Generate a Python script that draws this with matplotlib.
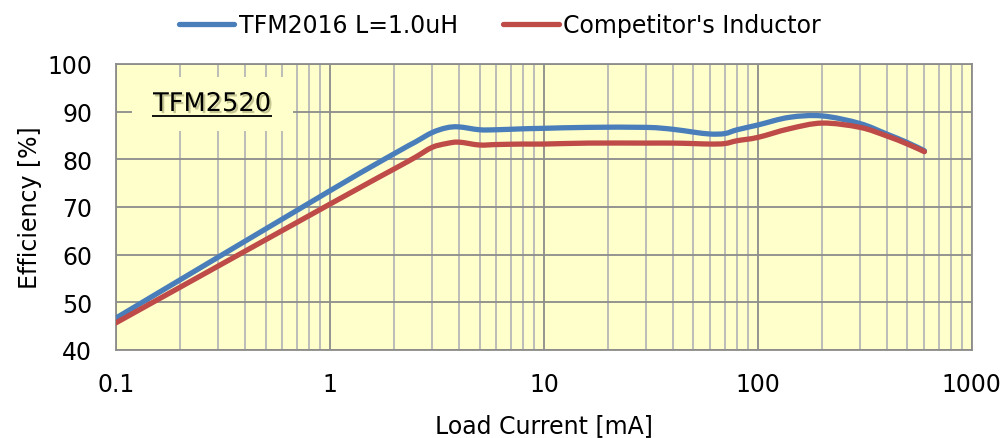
import matplotlib
matplotlib.use("Agg")
import numpy as np
import matplotlib.pyplot as plt
import matplotlib.patheffects as pe
from matplotlib.path import Path
from matplotlib.patches import PathPatch, Rectangle
from matplotlib.lines import Line2D
from matplotlib.ticker import LogLocator, FixedLocator, NullFormatter, FixedFormatter

# Data
current_ma = [0.1, 1, 2, 2.5, 3, 3.5, 4, 5, 6, 8, 10, 16, 30, 40, 50, 60, 70, 80,
              100, 140, 200, 300, 400, 500, 600]
tfm2016 = [46.7, 73.4, 81.2, 83.6, 85.6, 86.6, 86.8, 86.2, 86.2, 86.4, 86.5, 86.7,
           86.7, 86.3, 85.7, 85.3, 85.4, 86.2, 87.2, 88.8, 89.1, 87.5, 85.3, 83.5, 81.8]
competitor = [45.7, 70.6, 78.0, 80.4, 82.5, 83.3, 83.6, 83.0, 83.1, 83.2, 83.2, 83.4,
              83.4, 83.4, 83.3, 83.2, 83.3, 83.9, 84.6, 86.4, 87.6, 86.7, 84.9, 83.2, 81.6]

series_names = ["TFM2016 L=1.0uH", "Competitor's Inductor"]
x_ticks = [0.1, 1, 10, 100, 1000]
x_tick_labels = ["0.1", "1", "10", "100", "1000"]
y_ticks = [40, 50, 60, 70, 80, 90, 100]

BLUE = "#4A7EBB"
RED = "#BE4B48"
LW = 3.8
FS = 17


def smooth_path(xs, ys):
    """Excel-style smoothed line: cubic Bezier through the data points,
    built in log-x space so the axis scale maps it as drawn."""
    lx = np.log10(np.asarray(xs, float))
    y = np.asarray(ys, float)
    n = len(lx)
    verts = [(xs[0], ys[0])]
    codes = [Path.MOVETO]
    for i in range(n - 1):
        i0 = max(i - 1, 0)
        i3 = min(i + 2, n - 1)
        c1 = (lx[i] + (lx[i + 1] - lx[i0]) / 6, y[i] + (y[i + 1] - y[i0]) / 6)
        c2 = (lx[i + 1] - (lx[i3] - lx[i]) / 6, y[i + 1] - (y[i3] - y[i]) / 6)
        verts += [(10 ** c1[0], c1[1]), (10 ** c2[0], c2[1]), (xs[i + 1], ys[i + 1])]
        codes += [Path.CURVE4] * 3
    return Path(verts, codes)


fig = plt.figure(figsize=(10.04, 4.39), dpi=100)
ax = fig.add_axes([0.1155, 0.2005, 0.8525, 0.6515])
ax.set_facecolor("#FFFFCC")

ax.set_xscale("log")
ax.set_xlim(0.1, 1000)
ax.set_ylim(40, 100)

for xs, ys, col, z in [(current_ma, tfm2016, BLUE, 3), (current_ma, competitor, RED, 4)]:
    ax.add_patch(PathPatch(smooth_path(xs, ys), fill=False, edgecolor=col, lw=LW,
                           capstyle="round", joinstyle="round", zorder=z))

ax.xaxis.set_major_locator(FixedLocator(x_ticks))
ax.xaxis.set_major_formatter(FixedFormatter(x_tick_labels))
ax.xaxis.set_minor_locator(LogLocator(base=10, subs=range(2, 10), numticks=20))
ax.xaxis.set_minor_formatter(NullFormatter())
ax.set_yticks(y_ticks)

ax.grid(True, which="major", color="#8C8C8C", lw=1.3, zorder=1)
ax.grid(True, which="minor", axis="x", color="#B8B8B8", lw=1.3, zorder=1)
ax.set_axisbelow(True)
for s in ax.spines.values():
    s.set_color("#8C8C8C")
    s.set_linewidth(1.3)

ax.tick_params(axis="both", which="both", length=0, labelsize=FS)
ax.tick_params(axis="x", pad=16)
ax.tick_params(axis="y", pad=17)

ax.set_xlabel("Load Current [mA]", fontsize=FS, labelpad=12.5)
ax.set_ylabel("Efficiency [%]", fontsize=FS, labelpad=4)

# TFM2520 label box
ax.add_patch(Rectangle((0.0187, 0.766), 0.188, 0.189, transform=ax.transAxes,
                       facecolor="#FFFFCC", edgecolor="none", zorder=2))
ax.text(0.1125, 0.86, "TFM2520", transform=ax.transAxes, fontsize=18.5,
        ha="center", va="center", zorder=6,
        path_effects=[pe.withSimplePatchShadow(offset=(1.5, -1.5),
                                               shadow_rgbFace="#A0A070",
                                               alpha=0.6)])
ax.plot([0.0421, 0.1823], [0.818, 0.818], transform=ax.transAxes, color="black",
        lw=1.3, zorder=7, solid_capstyle="butt")

handles = [Line2D([], [], color=BLUE, lw=LW, solid_capstyle="round"),
           Line2D([], [], color=RED, lw=LW, solid_capstyle="round")]
fig.legend(handles, series_names, loc="center", bbox_to_anchor=(0.498, 0.941), ncol=2,
           frameon=False, fontsize=FS, handlelength=2.35, columnspacing=1.9,
           handletextpad=0.2)

fig.savefig("out.png", dpi=100)
